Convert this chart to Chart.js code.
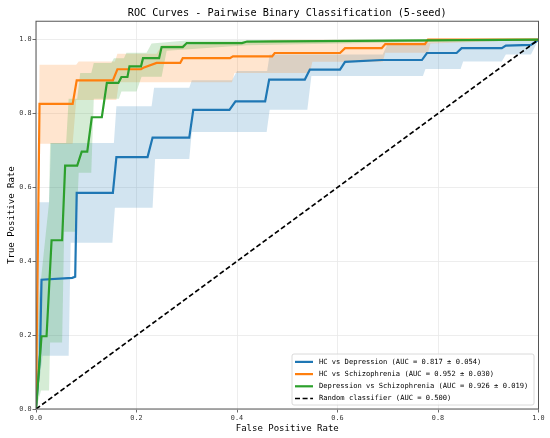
<!DOCTYPE html>
<html>
<head>
<meta charset="utf-8">
<script src="https://cdn.jsdelivr.net/npm/chart.js@4.4.1/dist/chart.umd.min.js"></script>
<style>
  html, body { margin: 0; padding: 0; background: #fff; }
</style>
</head>
<body>
<canvas id="rocChart" width="550" height="438"></canvas>
<script>
// HC vs Depression
const hcDepFpr = [0, 0.008, 0.011, 0.072, 0.078, 0.081, 0.153, 0.16, 0.222, 0.232, 0.305, 0.313, 0.385, 0.397, 0.456, 0.464, 0.535, 0.545, 0.605, 0.615, 0.688, 0.768, 0.778, 0.837, 0.847, 0.927, 0.935, 0.985, 1];
const hcDepTpr = [0, 0.15, 0.35, 0.355, 0.358, 0.585, 0.585, 0.682, 0.682, 0.735, 0.735, 0.81, 0.81, 0.833, 0.833, 0.892, 0.892, 0.919, 0.919, 0.94, 0.945, 0.945, 0.964, 0.964, 0.977, 0.977, 0.984, 0.986, 1];
const hcDepUpFpr = [0, 0.004, 0.026, 0.03, 0.155, 0.16, 0.23, 0.235, 0.305, 0.31, 0.39, 0.4, 0.46, 0.465, 0.69, 0.7, 1];
const hcDepUp = [0, 0.56, 0.56, 0.72, 0.72, 0.82, 0.82, 0.87, 0.87, 0.89, 0.89, 0.915, 0.915, 0.96, 0.96, 0.99, 1];
const hcDepLoFpr = [0, 0.013, 0.065, 0.069, 0.152, 0.157, 0.232, 0.237, 0.305, 0.31, 0.459, 0.465, 0.54, 0.548, 0.77, 0.775, 0.845, 0.85, 0.927, 0.935, 0.985, 1];
const hcDepLo = [0, 0.144, 0.144, 0.45, 0.45, 0.545, 0.545, 0.677, 0.677, 0.75, 0.75, 0.81, 0.81, 0.902, 0.902, 0.921, 0.921, 0.941, 0.941, 0.96, 0.96, 1];

// HC vs Schizophrenia
const hcSczFpr = [0, 0.007, 0.073, 0.081, 0.153, 0.162, 0.209, 0.215, 0.24, 0.287, 0.292, 0.386, 0.392, 0.47, 0.475, 0.605, 0.615, 0.688, 0.695, 0.774, 0.78, 1];
const hcSczTpr = [0, 0.826, 0.826, 0.89, 0.89, 0.92, 0.92, 0.925, 0.937, 0.937, 0.95, 0.95, 0.955, 0.955, 0.964, 0.964, 0.977, 0.977, 0.988, 0.988, 1, 1];
const hcSczUpFpr = [0, 0.007, 0.08, 0.085, 0.157, 0.162, 0.24, 0.25, 0.4, 0.47, 1];
const hcSczUp = [0, 0.932, 0.932, 0.941, 0.941, 0.962, 0.962, 0.985, 0.99, 1, 1];
const hcSczLoFpr = [0, 0.007, 0.073, 0.08, 0.16, 0.165, 0.39, 0.395, 0.545, 0.55, 0.69, 0.695, 0.78, 0.785, 1];
const hcSczLo = [0, 0.718, 0.718, 0.837, 0.837, 0.885, 0.885, 0.91, 0.91, 0.94, 0.94, 0.965, 0.965, 0.99, 1];

// Depression vs Schizophrenia
const depSczFpr = [0, 0.011, 0.021, 0.031, 0.052, 0.058, 0.082, 0.091, 0.102, 0.111, 0.131, 0.141, 0.164, 0.17, 0.182, 0.186, 0.209, 0.213, 0.245, 0.25, 0.292, 0.3, 0.41, 0.42, 1];
const depSczTpr = [0, 0.197, 0.197, 0.457, 0.457, 0.659, 0.659, 0.697, 0.697, 0.79, 0.79, 0.883, 0.883, 0.899, 0.899, 0.928, 0.928, 0.95, 0.95, 0.98, 0.98, 0.991, 0.991, 0.995, 1];
const depSczUpFpr = [0, 0.006, 0.026, 0.028, 0.06, 0.065, 0.082, 0.088, 0.11, 0.115, 0.15, 0.155, 0.175, 0.18, 0.22, 0.23, 0.3, 1];
const depSczUp = [0, 0.3, 0.56, 0.72, 0.72, 0.84, 0.84, 0.91, 0.91, 0.937, 0.937, 0.95, 0.95, 0.965, 0.965, 0.99, 0.998, 1];
const depSczLoFpr = [0, 0.01, 0.026, 0.028, 0.052, 0.056, 0.08, 0.085, 0.11, 0.115, 0.165, 0.17, 0.2, 0.21, 0.25, 0.26, 0.42, 1];
const depSczLo = [0, 0.05, 0.05, 0.18, 0.18, 0.48, 0.48, 0.64, 0.64, 0.84, 0.84, 0.86, 0.86, 0.9, 0.9, 0.97, 0.985, 1];

// chance line
const randomFpr = [0, 1];
const randomTpr = [0, 1];

const seriesLabels = [
    "HC vs Depression (AUC = 0.817 ± 0.054)",
    "HC vs Schizophrenia (AUC = 0.952 ± 0.030)",
    "Depression vs Schizophrenia (AUC = 0.926 ± 0.019)",
    "Random classifier (AUC = 0.500)",
];
const axisTicks = [0, 0.2, 0.4, 0.6, 0.8, 1.0];

const BLUE = "#1f77b4", ORANGE = "#ff7f0e", GREEN = "#2ca02c";
const MONO = "'DejaVu Sans Mono', 'Liberation Mono', monospace";

const pts = (xs, ys) => xs.map((x, i) => ({ x: x, y: ys[i] }));

function curve(label, xs, ys, color, order) {
    return {
        label: label,
        data: pts(xs, ys),
        borderColor: color,
        backgroundColor: color,
        borderWidth: 2.2,
        pointRadius: 0,
        fill: false,
        order: order,
        inLegend: true,
    };
}

function bandEdge(xs, ys, color, order, fillTo) {
    return {
        label: "",
        data: pts(xs, ys),
        borderWidth: 0,
        borderColor: "rgba(0,0,0,0)",
        backgroundColor: color,
        pointRadius: 0,
        fill: fillTo,
        order: order,
    };
}

const datasets = [
    curve(seriesLabels[0], hcDepFpr, hcDepTpr, BLUE, 4),
    curve(seriesLabels[1], hcSczFpr, hcSczTpr, ORANGE, 3),
    curve(seriesLabels[2], depSczFpr, depSczTpr, GREEN, 2),
    Object.assign(curve(seriesLabels[3], randomFpr, randomTpr, "#000", 1), { borderDash: [5, 2.6], borderWidth: 1.6 }),
    bandEdge(hcDepLoFpr, hcDepLo, "rgba(31,119,180,0.2)", 12, false),
    bandEdge(hcDepUpFpr, hcDepUp, "rgba(31,119,180,0.2)", 12, "-1"),
    bandEdge(hcSczLoFpr, hcSczLo, "rgba(255,127,14,0.2)", 11, false),
    bandEdge(hcSczUpFpr, hcSczUp, "rgba(255,127,14,0.2)", 11, "-1"),
    bandEdge(depSczLoFpr, depSczLo, "rgba(44,160,44,0.2)", 10, false),
    bandEdge(depSczUpFpr, depSczUp, "rgba(44,160,44,0.2)", 10, "-1"),
];

// frame + legend box in the lower right corner of the plot
const insideLegend = {
    id: "insideLegend",
    afterDraw(chart) {
        const { ctx, chartArea } = chart;
        ctx.save();
        ctx.strokeStyle = "#555";
        ctx.lineWidth = 1;
        ctx.strokeRect(chartArea.left, chartArea.top, chartArea.width, chartArea.height);

        const w = 242, h = 51;
        const x0 = chartArea.right - 4.5 - w;
        const y0 = chartArea.bottom - 4 - h;
        ctx.beginPath();
        ctx.roundRect(x0, y0, w, h, 2);
        ctx.fillStyle = "rgba(255,255,255,0.8)";
        ctx.fill();
        ctx.strokeStyle = "#d0d0d0";
        ctx.lineWidth = 0.8;
        ctx.stroke();

        const items = chart.data.datasets.filter((d) => d.inLegend);
        ctx.font = "7.1px " + MONO;
        ctx.textBaseline = "middle";
        items.forEach((d, i) => {
            const y = y0 + 7.9 + i * 12.2;
            ctx.beginPath();
            ctx.setLineDash(d.borderDash || []);
            ctx.strokeStyle = d.borderColor;
            ctx.lineWidth = d.borderWidth;
            ctx.moveTo(x0 + 3, y);
            ctx.lineTo(x0 + 21, y);
            ctx.stroke();
            ctx.setLineDash([]);
            ctx.fillStyle = "#000";
            ctx.fillText(d.label, x0 + 27, y);
        });
        ctx.restore();
    },
};

const tickFont = { family: MONO, size: 6.8 };
const titleFont = { family: MONO, size: 9 };

new Chart(document.getElementById("rocChart"), {
    type: "line",
    data: { datasets: datasets },
    options: {
        responsive: false,
        animation: false,
        layout: { padding: { right: 11.5 } },
        plugins: {
            legend: { display: false },
            tooltip: { enabled: false },
            title: {
                display: true,
                text: "ROC Curves - Pairwise Binary Classification (5-seed)",
                color: "#000",
                font: { family: MONO, size: 10.2, weight: "normal" },
                padding: { top: 7, bottom: 2 },
                fullSize: false,
            },
        },
        scales: {
            x: {
                type: "linear",
                min: 0,
                max: 1,
                afterFit: (s) => { s.height = 29; },
                afterBuildTicks: (s) => { s.ticks = axisTicks.map((v) => ({ value: v })); },
                ticks: {
                    font: tickFont,
                    color: "#333",
                    padding: 2,
                    maxRotation: 0,
                    callback: (v) => v.toFixed(1),
                },
                grid: { color: "#e8e8e8", lineWidth: 0.8, tickLength: 3.5, tickColor: "#444", tickWidth: 0.8 },
                border: { display: false },
                title: { display: true, text: "False Positive Rate", color: "#000", font: titleFont, padding: { top: 0, bottom: 3.6 } },
            },
            y: {
                type: "linear",
                min: 0,
                max: 1.05,
                afterFit: (s) => { s.width = 36; },
                afterBuildTicks: (s) => { s.ticks = axisTicks.map((v) => ({ value: v })); },
                ticks: {
                    font: tickFont,
                    color: "#333",
                    padding: 1,
                    callback: (v) => v.toFixed(1),
                },
                grid: { color: "#e8e8e8", lineWidth: 0.8, tickLength: 3.5, tickColor: "#444", tickWidth: 0.8 },
                border: { display: false },
                title: { display: true, text: "True Positive Rate", color: "#000", font: titleFont, padding: { top: 6, bottom: 0 } },
            },
        },
    },
    plugins: [insideLegend],
});
</script>
</body>
</html>
